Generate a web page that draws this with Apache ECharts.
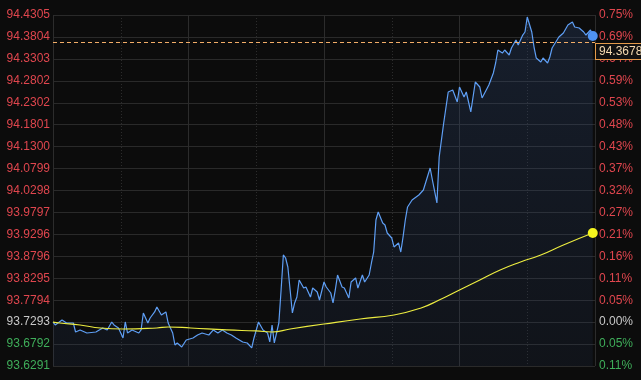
<!DOCTYPE html>
<html><head><meta charset="utf-8">
<script src="https://cdn.jsdelivr.net/npm/echarts@6/dist/echarts.min.js"></script>
<style>html,body{margin:0;padding:0;background:#0c0c0c}#c{width:641px;height:380px}</style>
</head><body><div id="c"></div><script>
const baseLevel = 93.7293;
const tickStep = 0.7012 / 14;
const axisMin = baseLevel - 2 * tickStep;
const axisMax = baseLevel + 14 * tickStep;
const markPrice = 94.3678;
const sessionMinutes = 240;

const minutes = [0,1,4,6,9,10,12,15,19,22,24,26,27,29,31,32,33,35,38,39,40,42,43,45,46,48,50,51,53,54,55,57,59,62,64,66,69,71,73,75,77,79,81,84,86,88,89,91,93,95,96,97,98,100,101,102,103,104,105,106,107,108,109,111,112,114,115,117,118,120,121,123,124,125,126,128,129,131,132,134,135,137,138,140,141,142,143,144,146,147,148,150,151,153,154,155,156,157,159,162,164,167,168,170,171,173,175,177,179,180,182,183,185,187,189,190,193,195,196,197,199,200,202,203,205,206,208,209,210,212,213,214,216,217,219,220,221,224,226,228,230,231,233,235,236,238,239];
const prices = [93.7293,93.7228,93.7342,93.7273,93.7273,93.7068,93.7114,93.7045,93.7068,93.7159,93.7114,93.7296,93.7228,93.7159,93.6931,93.7296,93.7045,93.7114,93.7045,93.7114,93.7502,93.7273,93.7387,93.7525,93.7639,93.7456,93.7525,93.7273,93.7045,93.6771,93.6817,93.6725,93.6885,93.6931,93.6999,93.7045,93.6999,93.7114,93.7045,93.7114,93.7045,93.6999,93.6931,93.6840,93.6817,93.6703,93.6931,93.7296,93.7114,93.7045,93.6840,93.7228,93.6817,93.7273,93.8027,93.8826,93.8757,93.8552,93.8027,93.7502,93.7730,93.7867,93.8255,93.8072,93.8095,93.7867,93.8072,93.7981,93.7798,93.8209,93.8095,93.7958,93.7730,93.8027,93.8369,93.8095,93.8072,93.7844,93.8209,93.8301,93.8072,93.8369,93.8209,93.8369,93.8643,93.8894,93.9625,93.9807,93.9556,93.9511,93.9328,93.9214,93.9009,93.9100,93.8894,93.9237,93.9625,93.9922,94.0081,94.0196,94.0310,94.0812,94.0538,94.0013,94.1063,94.1839,94.2547,94.2593,94.2319,94.2661,94.2433,94.2547,94.2091,94.2775,94.2661,94.2410,94.2707,94.2981,94.3209,94.3506,94.3437,94.3506,94.3392,94.3552,94.3734,94.3620,94.3848,94.3917,94.4259,94.3917,94.3574,94.3323,94.3232,94.3323,94.3209,94.3346,94.3552,94.3803,94.3894,94.4077,94.4145,94.4031,94.4008,94.3917,94.3848,94.3963,94.3826];

const avgMinutes = [0,3,12,21,31,46,51,61,77,90,97,105,120,136,151,163,171,180,189,198,207,216,226,239];
const avgPrices = [93.7293,93.7273,93.7228,93.7159,93.7136,93.7159,93.7182,93.7159,93.7114,93.7091,93.7068,93.7136,93.7250,93.7365,93.7456,93.7616,93.7798,93.8027,93.8255,93.8483,93.8666,93.8826,93.9055,93.9328];

const priceData = minutes.map((m, i) => [m, prices[i]]);
const avgData = avgMinutes.map((m, i) => [m, avgPrices[i]]);
const lastPrice = priceData[priceData.length - 1];
const lastAvg = avgData[avgData.length - 1];

const UP = '#e0464e', DOWN = '#3fae5a', FLAT = '#c8c8c8';
function sideColor(v) {
  const d = v - baseLevel;
  if (Math.abs(d) < 1e-6) return FLAT;
  return d > 0 ? UP : DOWN;
}
const font = "'Liberation Sans', Arial, sans-serif";
const dashStyle = {color: '#f2ad68', type: [4, 3], width: 1, opacity: 1};

const chart = echarts.init(document.getElementById('c'), null, {renderer: 'canvas'});
chart.setOption({
  animation: false,
  backgroundColor: '#0c0c0c',
  grid: {left: 53, right: 46, top: 15, bottom: 14},
  xAxis: [
    {type: 'value', min: 0, max: sessionMinutes, interval: 30,
     axisLine: {show: false}, axisTick: {show: false}, axisLabel: {show: false},
     splitLine: {show: true, lineStyle: {color: '#2c2c2c', type: [1, 2], width: 1}}},
    {type: 'value', min: 0, max: sessionMinutes, interval: 60, position: 'bottom',
     axisLine: {show: false}, axisTick: {show: false}, axisLabel: {show: false},
     splitLine: {show: true, lineStyle: {color: '#2c2c2c', width: 1}}}
  ],
  yAxis: [
    {type: 'value', min: axisMin, max: axisMax, interval: tickStep, position: 'left',
     axisLine: {show: false}, axisTick: {show: false},
     splitLine: {show: true, lineStyle: {color: '#2a2a2a', width: 1}},
     axisLabel: {margin: 3, fontSize: 12, fontFamily: font,
       color: v => sideColor(v),
       formatter: v => v.toFixed(4)}},
    {type: 'value', min: axisMin, max: axisMax, interval: tickStep, position: 'right',
     axisLine: {show: false}, axisTick: {show: false}, splitLine: {show: false},
     axisLabel: {margin: 4, fontSize: 12, fontFamily: font,
       color: v => sideColor(v),
       formatter: v => Math.abs((v - baseLevel) / baseLevel * 100).toFixed(2) + '%'}}
  ],
  series: [
    {type: 'line', data: priceData, xAxisIndex: 0, yAxisIndex: 0,
     showSymbol: false, smooth: false,
     lineStyle: {color: '#5f9ff5', width: 1.2},
     areaStyle: {color: new echarts.graphic.LinearGradient(0, 0, 0, 1, [
       {offset: 0, color: 'rgba(52,82,135,0.38)'},
       {offset: 1, color: 'rgba(40,60,100,0.22)'}])},
     markLine: {silent: true, symbol: 'none', precision: 4,
       lineStyle: dashStyle,
       emphasis: {disabled: true},
       label: {position: 'end', distance: 1, offset: [0, 9], formatter: () => markPrice.toFixed(4),
         color: '#f5dab0', fontSize: 12, fontFamily: font,
         backgroundColor: '#111', borderColor: '#e39a4a', borderWidth: 1, padding: [2, 3, 1, 3]},
       data: [{yAxis: markPrice, lineStyle: dashStyle}]},
     z: 3},
    {type: 'line', data: avgData, smooth: true, showSymbol: false,
     lineStyle: {color: '#ecec40', width: 1.2}, z: 4},
    {type: 'scatter', data: [lastPrice], symbolSize: 10, itemStyle: {color: '#4f93f2', opacity: 1}, z: 5},
    {type: 'scatter', data: [lastAvg], symbolSize: 10, itemStyle: {color: '#f5f51e', opacity: 1}, z: 5}
  ]
});
</script></body></html>
